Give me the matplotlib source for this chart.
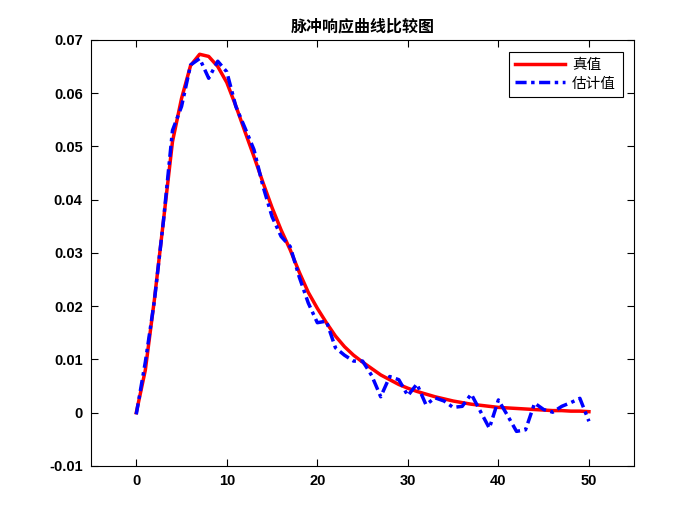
import matplotlib
matplotlib.use("Agg")
import matplotlib.pyplot as plt
import numpy as np
from matplotlib.ticker import FuncFormatter

plt.rcParams['font.family'] = ['Liberation Sans', 'Noto Sans CJK SC', 'DejaVu Sans']

k = np.arange(0, 51)

true_vals = [0.0, 0.0080, 0.0212, 0.0360, 0.0509, 0.0590, 0.0652, 0.0673, 0.0669, 0.0650,
             0.0620, 0.0576, 0.0528, 0.0481, 0.0432, 0.0385, 0.0343, 0.0306, 0.0264, 0.0226,
             0.0196, 0.0169, 0.0144, 0.0124, 0.0108, 0.0095, 0.0083, 0.0071, 0.0062, 0.0053,
             0.0046, 0.0040, 0.0035, 0.0030, 0.0026, 0.0022, 0.0019, 0.0016, 0.0014, 0.0012,
             0.0010, 0.0009, 0.0008, 0.0007, 0.0006, 0.0005, 0.0004, 0.0004, 0.0003, 0.0003,
             0.0002]

est_vals = [-0.0003, 0.0095, 0.0210, 0.0360, 0.0530, 0.0575, 0.0653, 0.0665, 0.0628, 0.0660,
            0.0640, 0.0575, 0.0535, 0.0494, 0.0425, 0.0368, 0.0331, 0.0312, 0.0255, 0.0206,
            0.0169, 0.0172, 0.0122, 0.0108, 0.0097, 0.0097, 0.0070, 0.0030, 0.0068, 0.0062,
            0.0032, 0.0054, 0.0015, 0.0028, 0.0022, 0.0010, 0.0012, 0.0035, 0.0003, -0.0029,
            0.0024, -0.0005, -0.0035, -0.0032, 0.0018, 0.0006, 0.0001, 0.0012, 0.0019, 0.0027,
            -0.0016]

x_ticks = [0, 10, 20, 30, 40, 50]
y_ticks = [-0.01, 0, 0.01, 0.02, 0.03, 0.04, 0.05, 0.06, 0.07]

fig = plt.figure(figsize=(7, 5.25), dpi=100)
ax = fig.add_axes([0.13, 0.1124, 0.776, 0.8116])

ax.plot(k, true_vals, color='red', linewidth=2.5, label='真值')
ax.plot(k, est_vals, color='blue', linewidth=2.5, linestyle=(0, (3.2, 1.3, 1.0, 1.3)), label='估计值')

ax.set_xlim(-5, 55)
ax.set_ylim(-0.01, 0.07)
ax.set_xticks(x_ticks)
ax.set_yticks(y_ticks)
ax.yaxis.set_major_formatter(FuncFormatter(lambda v, p: '%g' % round(v, 4)))
ax.tick_params(direction='in', top=True, right=True, length=5, width=0.8,
               labelsize=10.5, pad=6)
for lbl in ax.get_xticklabels() + ax.get_yticklabels():
    lbl.set_fontweight('bold')
for sp in ax.spines.values():
    sp.set_linewidth(0.8)

ax.set_title('脉冲响应曲线比较图', fontsize=11.5, fontweight='bold',
             family=['Noto Sans CJK SC', 'DejaVu Sans'], pad=6)

leg = ax.legend(loc='upper right', prop={'family': ['Noto Sans CJK SC', 'DejaVu Sans'], 'size': 10.5},
                fancybox=False, edgecolor='black', framealpha=1, handlelength=3.4,
                borderaxespad=0.8, labelspacing=0.3, borderpad=0.45, handletextpad=0.5)
leg.get_frame().set_linewidth(0.8)

fig.savefig('out.png', dpi=100, facecolor='white')
plt.close(fig)
